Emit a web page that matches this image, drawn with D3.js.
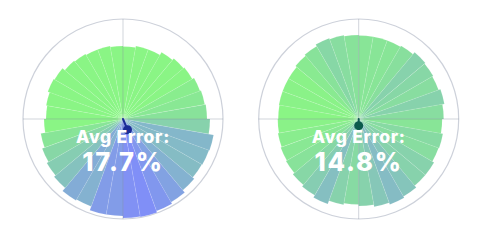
<!DOCTYPE html>
<html>
<head>
<meta charset="utf-8">
<script src="https://cdn.jsdelivr.net/npm/d3@7"></script>
<style>
  html, body { margin: 0; padding: 0; background: #ffffff; }
  svg { display: block; }
</style>
</head>
<body>
<svg id="chart" width="499" height="241"></svg>
<script>
// ---- data ----
const angleBins = d3.range(0, 360, 10); // slice start angles (degrees, clockwise from north)
const errorsA = [72.5, 74, 74, 77, 79, 80, 82, 83, 84, 87, 92, 91.5, 91, 93, 96, 98, 99.5, 99,
                 97, 97, 93, 94, 90, 88, 86, 83.5, 79, 77, 78, 80, 79, 76, 75, 74, 74, 73];
const errorsB = [83.5, 83.5, 83.5, 84.5, 87, 86, 85, 87, 85, 83.5, 85.5, 85, 87, 87, 89.5, 91, 89, 87,
                 85.5, 87, 90.5, 88, 86, 84, 83, 82, 81, 80.5, 81, 81, 81, 82.5, 84, 86, 85, 84];
const avgLabels = ["17.7%", "14.8%"];
const biasA = [2.5, 6];   // [x, y] mean-error offset, data units
const biasB = [0, 3.7];
const dotColors = ["#1b2c96", "#0c5a4c"];

// ---- layout ----
const svg = d3.select("#chart");
const centers = [[123, 119], [358.7, 119]];
const outerR = 100;

const rScale = d3.scaleLinear().domain([0, 100]).range([0, outerR]);
const aScale = d3.scaleLinear().domain([0, 360]).range([0, 2 * Math.PI]);
const color = d3.scaleLinear().domain([80.5, 100])
  .range(["#8af585", "#808cfa"]).clamp(true).interpolate(d3.interpolateRgb);

const panels = [
  { errors: errorsA, label: avgLabels[0], bias: biasA, dot: dotColors[0] },
  { errors: errorsB, label: avgLabels[1], bias: biasB, dot: dotColors[1] }
];

const arc = d3.arc()
  .innerRadius(0)
  .outerRadius(d => rScale(d.v))
  .startAngle(d => aScale(d.a))
  .endAngle(d => aScale(d.a + 10));

panels.forEach((p, i) => {
  const g = svg.append("g").attr("transform", `translate(${centers[i][0]},${centers[i][1]})`);

  // outer ring
  g.append("circle").attr("r", outerR)
    .attr("fill", "none").attr("stroke", "#cdd1da").attr("stroke-width", 1.2);

  const data = angleBins.map((a, k) => ({ a, v: p.errors[k] }));
  g.selectAll("path.slice").data(data).enter().append("path")
    .attr("class", "slice")
    .attr("d", arc)
    .attr("fill", d => color(d.v))
    .attr("stroke", "rgba(255,255,255,0.2)")
    .attr("stroke-width", 0.5);

  // crosshair
  g.append("line").attr("x1", -outerR).attr("x2", outerR).attr("y1", 0).attr("y2", 0)
    .attr("stroke", "rgba(90,100,125,0.28)").attr("stroke-width", 1);
  g.append("line").attr("y1", -outerR).attr("y2", outerR).attr("x1", 0).attr("x2", 0)
    .attr("stroke", "rgba(90,100,125,0.28)").attr("stroke-width", 1);

  // bias needle
  const bx = rScale(p.bias[0]) * 1.8, by = rScale(p.bias[1]) * 1.8;
  g.append("line").attr("x1", 0).attr("y1", 0).attr("x2", bx).attr("y2", by)
    .attr("stroke", p.dot).attr("stroke-width", 2).attr("stroke-linecap", "round");
  g.append("circle").attr("cx", bx).attr("cy", by).attr("r", 4.5).attr("fill", p.dot);

  // labels
  const font = "Inter, 'Open Sans', sans-serif";
  g.append("text").attr("x", 0).attr("y", 24)
    .attr("text-anchor", "middle")
    .attr("font-family", font).attr("font-weight", 800)
    .attr("font-size", 17.5).attr("letter-spacing", 0.7)
    .attr("fill", "#ffffff")
    .text("Avg Error:");
  g.append("text").attr("x", 0).attr("y", 52)
    .attr("text-anchor", "middle")
    .attr("font-family", font).attr("font-weight", 800)
    .attr("font-size", 25.5).attr("letter-spacing", 1.8)
    .attr("fill", "#ffffff")
    .text(p.label);
});
</script>
</body>
</html>
